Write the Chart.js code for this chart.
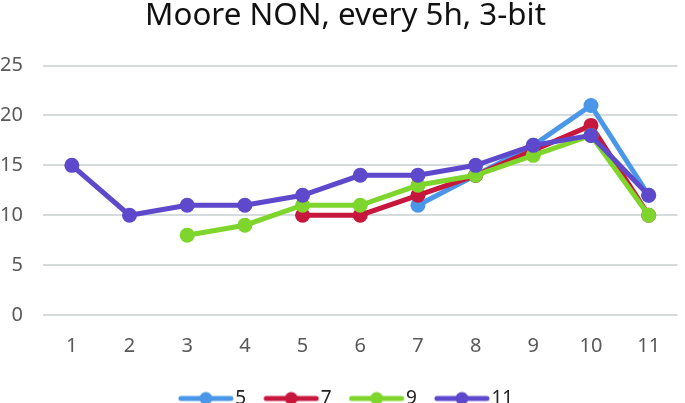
<!DOCTYPE html>
<html><head><meta charset="utf-8">
<script src="https://cdn.jsdelivr.net/npm/chart.js@4/dist/chart.umd.min.js"></script>
<style>html,body{margin:0;padding:0;background:#fff}#wrap{width:685px;height:403px;position:relative}</style>
</head><body><div id="wrap"><canvas id="c" width="685" height="403"></canvas></div>
<script>
const categories = ['1','2','3','4','5','6','7','8','9','10','11'];
const seriesNames = ['5','7','9','11'];
const s5  = [null,null,null,null,null,null,11,14,17,21,12];
const s7  = [null,null,null,null,10,10,12,14,16.5,19,10];
const s9  = [null,null,8,9,11,11,13,14,16,18,10];
const s11 = [15,10,11,11,12,14,14,15,17,18,12];
const yTicks = [0,5,10,15,20,25];
const colors = ['#4a97ea','#c8173d','#7ed52b','#5e48cc'];

function legendIcon(color){
  const cv = document.createElement('canvas');
  cv.width = 60; cv.height = 16;
  const g = cv.getContext('2d');
  g.strokeStyle = color; g.lineWidth = 5; g.lineCap = 'round';
  g.beginPath(); g.moveTo(5,8); g.lineTo(55,8); g.stroke();
  g.fillStyle = color; g.beginPath(); g.arc(30,8,6.5,0,Math.PI*2); g.fill();
  return cv;
}
const icons = colors.map(legendIcon);

const shiftPlugin = {
  id: 'shiftBlocks',
  afterLayout(chart){
    if (chart.legend){ chart.legend.left += 8; chart.legend.right += 8; }
    if (chart.titleBlock){ chart.titleBlock.left += 4; chart.titleBlock.right += 4; }
  }
};

const allSeries = [s5,s7,s9,s11];
new Chart(document.getElementById('c'), {
  type: 'line',
  data: {
    labels: categories,
    datasets: allSeries.map((d,i)=>({
      label: seriesNames[i], data: d, order: allSeries.length - i,
      borderColor: colors[i], backgroundColor: colors[i],
      borderWidth: 5, pointRadius: 7.5, pointHoverRadius: 7.5,
      pointBorderWidth: 0, tension: 0, fill: false
    }))
  },
  plugins: [shiftPlugin],
  options: {
    responsive: false, animation: false,
    layout: {padding: {left: 0, right: 2, top: 0, bottom: -15}},
    plugins: {
      title: {display: true, text: 'Moore NON, every 5h, 3-bit', color: '#111',
        font: {family: 'Noto Sans', size: 31.3, weight: 'normal', lineHeight: 1.0}, padding: {top: 0, bottom: 34.25}},
      legend: {position: 'bottom',
        labels: {usePointStyle: true, pointStyleWidth: 40, boxHeight: 16, color: '#222',
          font: {family: 'Noto Sans', size: 19}, padding: 25,
          generateLabels: (chart) => chart.data.datasets.map((ds,i)=>({
            text: ds.label, pointStyle: icons[i], fillStyle: colors[i], strokeStyle: colors[i],
            lineWidth: 0, fontColor: '#222', datasetIndex: i, hidden: false
          }))
        }},
      tooltip: {enabled: false}
    },
    scales: {
      x: {offset: true, grid: {display: false}, border: {display: false},
        afterFit: (ax)=>{ ax.height = 49; },
        ticks: {color: '#595959', font: {family: 'Noto Sans', size: 20}, padding: 11}},
      y: {min: 0, max: 25, border: {display: false},
        grid: {color: '#d6dcdb', lineWidth: 2, drawTicks: false},
        afterFit: (ax)=>{ ax.width = 43; },
        afterBuildTicks: (ax)=>{ ax.ticks = yTicks.map(v=>({value:v})); },
        ticks: {color: '#595959', font: {family: 'Noto Sans', size: 20}, padding: 20}}
    }
  }
});
</script></body></html>
